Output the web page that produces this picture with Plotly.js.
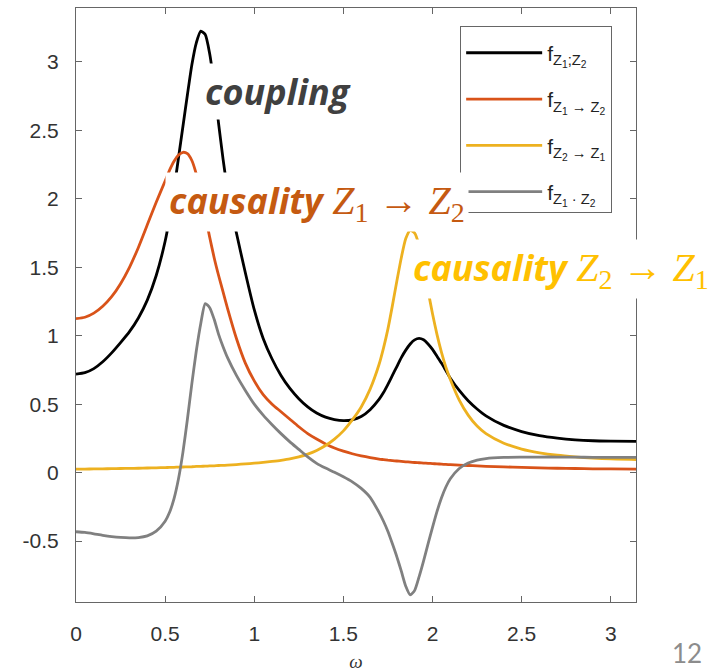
<!DOCTYPE html>
<html>
<head>
<meta charset="utf-8">
<script src="https://cdn.plot.ly/plotly-3.0.1.min.js"></script>
<style>
  html, body { margin: 0; padding: 0; background: #ffffff; }
  #chart { width: 720px; height: 672px; }
</style>
</head>
<body>
<div id="chart"></div>
<script>
// Frequency axis (rad/sample), denser around the spectral peaks
const omega = [
  0, 0.05, 0.1, 0.15, 0.2, 0.25, 0.3, 0.35, 0.4, 0.45, 0.5,
  0.525, 0.55, 0.575, 0.6, 0.625, 0.65, 0.675, 0.7, 0.725, 0.75, 0.775, 0.8, 0.825, 0.85,
  0.9, 0.95, 1.0, 1.05, 1.1, 1.15, 1.2, 1.25, 1.3, 1.35, 1.4, 1.45, 1.5, 1.55, 1.6, 1.65, 1.7,
  1.725, 1.75, 1.775, 1.8, 1.825, 1.85, 1.875, 1.9, 1.925, 1.95, 1.975, 2.0, 2.025, 2.05, 2.075, 2.1,
  2.15, 2.2, 2.25, 2.3, 2.4, 2.5, 2.6, 2.7, 2.8, 2.9, 3.0, 3.1416
];

// Total coupling f_{Z1;Z2}
const coupling = [
  0.72, 0.73, 0.76, 0.81, 0.875, 0.95, 1.03, 1.13, 1.26, 1.44, 1.69,
  1.86, 2.07, 2.30, 2.53, 2.76, 2.98, 3.14, 3.225, 3.20, 3.06, 2.83, 2.55, 2.29, 2.07,
  1.75, 1.46, 1.19, 0.98, 0.83, 0.71, 0.615, 0.54, 0.48, 0.435, 0.405, 0.388, 0.38, 0.386, 0.41, 0.46, 0.535,
  0.585, 0.645, 0.71, 0.775, 0.84, 0.895, 0.94, 0.97, 0.98, 0.97, 0.94, 0.90, 0.85, 0.80, 0.745, 0.69,
  0.60, 0.525, 0.465, 0.415, 0.345, 0.30, 0.27, 0.252, 0.24, 0.233, 0.23, 0.228
];

// Causality Z1 -> Z2
const causal12 = [
  1.125, 1.135, 1.165, 1.215, 1.285, 1.38, 1.50, 1.645, 1.81, 1.975, 2.13,
  2.21, 2.275, 2.32, 2.34, 2.33, 2.28, 2.18, 2.04, 1.88, 1.72, 1.57, 1.44, 1.32, 1.20,
  0.98, 0.80, 0.67, 0.57, 0.50, 0.445, 0.39, 0.335, 0.285, 0.245, 0.21, 0.18, 0.157, 0.138, 0.123, 0.11, 0.099,
  0.095, 0.091, 0.088, 0.085, 0.082, 0.079, 0.077, 0.074, 0.072, 0.07, 0.068, 0.066, 0.064, 0.062, 0.06, 0.058,
  0.055, 0.052, 0.049, 0.046, 0.042, 0.038, 0.035, 0.032, 0.03, 0.028, 0.027, 0.026
];

// Causality Z2 -> Z1
const causal21 = [
  0.026, 0.026, 0.027, 0.028, 0.029, 0.030, 0.031, 0.032, 0.034, 0.035, 0.037,
  0.038, 0.039, 0.040, 0.041, 0.042, 0.043, 0.045, 0.046, 0.047, 0.049, 0.050, 0.052, 0.053, 0.055,
  0.059, 0.064, 0.069, 0.075, 0.082, 0.09, 0.10, 0.115, 0.135, 0.162, 0.198, 0.245, 0.305, 0.385, 0.48, 0.61, 0.79,
  0.91, 1.05, 1.22, 1.40, 1.57, 1.71, 1.77, 1.75, 1.66, 1.51, 1.33, 1.16, 1.01, 0.88, 0.77, 0.68,
  0.53, 0.42, 0.34, 0.285, 0.215, 0.172, 0.145, 0.127, 0.115, 0.106, 0.10, 0.096
];

// Instantaneous term f_{Z1·Z2}
const instant = [
  -0.432, -0.437, -0.447, -0.458, -0.467, -0.473, -0.476, -0.474, -0.462, -0.428, -0.355,
  -0.29, -0.19, -0.045, 0.15, 0.39, 0.65, 0.89, 1.09, 1.235, 1.205, 1.12, 1.01, 0.92, 0.84,
  0.71, 0.60, 0.50, 0.42, 0.35, 0.285, 0.225, 0.17, 0.115, 0.068, 0.033, 0.003, -0.03, -0.067, -0.115, -0.18, -0.29,
  -0.355, -0.43, -0.52, -0.615, -0.72, -0.83, -0.893, -0.86, -0.76, -0.645, -0.52, -0.40, -0.285, -0.185, -0.105, -0.045,
  0.03, 0.07, 0.092, 0.103, 0.111, 0.113, 0.114, 0.114, 0.113, 0.112, 0.112, 0.111
];

const seriesNames = [
  'f<sub>Z<sub>1</sub>;Z<sub>2</sub></sub>',
  'f<sub>Z<sub>1</sub> → Z<sub>2</sub></sub>',
  'f<sub>Z<sub>2</sub> → Z<sub>1</sub></sub>',
  'f<sub>Z<sub>1</sub> · Z<sub>2</sub></sub>'
];
const seriesColors = ['#000000', '#D95319', '#EDB120', '#808080'];
const seriesValues = [coupling, causal12, causal21, instant];

const xTicks = [0, 0.5, 1, 1.5, 2, 2.5, 3];
const yTicks = [-0.5, 0, 0.5, 1, 1.5, 2, 2.5, 3];

const traces = seriesValues.map((vals, i) => ({
  x: omega,
  y: vals,
  type: 'scatter',
  mode: 'lines',
  name: seriesNames[i],
  legendgroup: 'g' + i,
  line: { color: seriesColors[i], width: 2.8, shape: 'spline', smoothing: 0.6 },
  hoverinfo: 'skip'
}));

// Math part of the labels: serif, slightly larger than the words
const mathStyle = "font-family:'Liberation Serif', 'DejaVu Serif', serif;font-size:40px";
const labelFont = 'Open Sans, Lato, sans-serif';

const axisCommon = {
  showline: true,
  linecolor: '#666666',
  linewidth: 1,
  mirror: 'ticks',
  ticks: 'inside',
  ticklen: 6,
  tickcolor: '#666666',
  tickwidth: 1,
  showgrid: false,
  zeroline: false,
  tickfont: { family: 'Liberation Sans, Arial, sans-serif', size: 21, color: '#333333' }
};

const layout = {
  width: 720,
  height: 672,
  margin: { l: 76, r: 84, t: 8, b: 70 },
  paper_bgcolor: '#ffffff',
  plot_bgcolor: '#ffffff',
  font: { family: 'Liberation Sans, Arial, sans-serif', color: '#333333' },
  xaxis: Object.assign({}, axisCommon, {
    range: [0, Math.PI],
    tickvals: xTicks,
    ticktext: xTicks.map(String),
    ticklabelstandoff: 13,
    title: { text: '<i>ω</i>', font: { size: 19, color: '#333333', family: 'Liberation Serif, serif' }, standoff: 16 }
  }),
  yaxis: Object.assign({}, axisCommon, {
    range: [-0.945, 3.394],
    tickvals: yTicks,
    ticktext: yTicks.map(String),
    ticklabelstandoff: 12
  }),
  showlegend: true,
  legend: {
    x: 0.686,
    y: 0.969,
    xanchor: 'left',
    yanchor: 'top',
    bgcolor: '#ffffff',
    bordercolor: '#666666',
    borderwidth: 1,
    traceorder: 'grouped',
    tracegroupgap: 16,
    itemwidth: 76,
    title: { text: ' ', font: { size: 4 } },
    font: { family: 'Liberation Sans, Arial, sans-serif', size: 21, color: '#222222' }
  },
  annotations: [
    {
      xref: 'x', yref: 'y', x: 0.70, y: 2.785, xanchor: 'left', yanchor: 'middle',
      text: '<b><i>coupling</i></b>',
      showarrow: false, bgcolor: '#ffffff', borderpad: 3,
      font: { family: labelFont, size: 36, color: '#404040' }
    },
    {
      xref: 'x', yref: 'y', x: 0.50, y: 1.98, xanchor: 'left', yanchor: 'middle',
      text: '<b><i>causality</i></b> <span style="' + mathStyle + '"><i>Z</i><sub>1</sub> → <i>Z</i><sub>2</sub></span>',
      showarrow: false, bgcolor: '#ffffff', borderpad: 3,
      font: { family: labelFont, size: 36, color: '#C55A11' }
    },
    {
      xref: 'x', yref: 'y', x: 1.87, y: 1.49, xanchor: 'left', yanchor: 'middle',
      text: '<b><i>causality</i></b> <span style="' + mathStyle + '"><i>Z</i><sub>2</sub> → <i>Z</i><sub>1</sub></span>',
      showarrow: false, bgcolor: '#ffffff', borderpad: 3,
      font: { family: labelFont, size: 36, color: '#FFC000' }
    },
    {
      xref: 'paper', yref: 'paper', x: 1.0916, y: -0.086, xanchor: 'center', yanchor: 'middle',
      text: '12', showarrow: false,
      font: { family: 'Lato, Open Sans, sans-serif', size: 26, color: '#8c8c8c' }
    }
  ]
};

Plotly.newPlot('chart', traces, layout, { staticPlot: true, displayModeBar: false });
</script>
</body>
</html>
